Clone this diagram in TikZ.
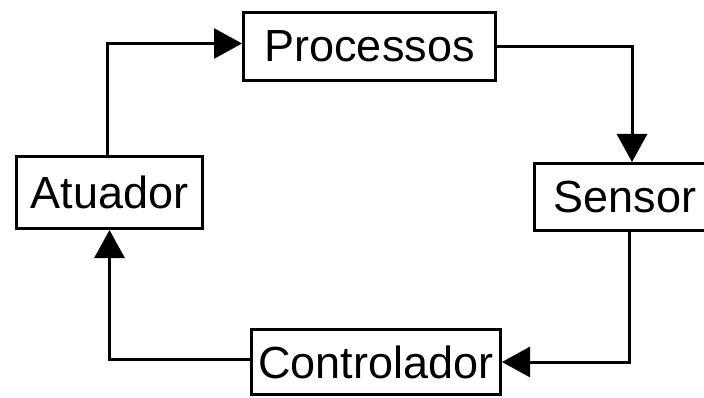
\documentclass[tikz,border=0pt]{standalone}
\usepackage{fontspec}
\setmainfont{Liberation Sans}
\usetikzlibrary{arrows.meta,positioning}

\begin{document}
\begin{tikzpicture}[x=1pt,y=-1pt,
  box/.style={draw,line width=3pt,inner sep=0pt,font=\fontsize{45}{45}\selectfont},
  flow/.style={line width=3pt,-{Triangle[length=28pt,width=30pt]}}]
  \useasboundingbox (0,0) rectangle (704,398);

    \node[box,minimum width=252pt,minimum height=68pt] (proc) at (369.5,46.5) {Processos};
    \node[box,minimum width=186pt,minimum height=72pt] (atua) at (109.5,192.5) {Atuador};
    \node[box,minimum width=181pt,minimum height=67pt] (sens) at (625,197) {Sensor};
    \node[box,minimum width=249pt,minimum height=65pt] (ctrl) at (376,362) {Controlador};

    % the loop
    \draw[flow] ([xshift=-2.5pt]atua.north) |- ([yshift=3pt]proc.west);
    \draw[flow] (proc.east) -| ([xshift=7pt]sens.north);
    \draw[flow] ([xshift=4pt]sens.south) |- (ctrl.east);
    \draw[flow] ([yshift=2.5pt]ctrl.west) -| (atua.south);
\end{tikzpicture}
\end{document}
